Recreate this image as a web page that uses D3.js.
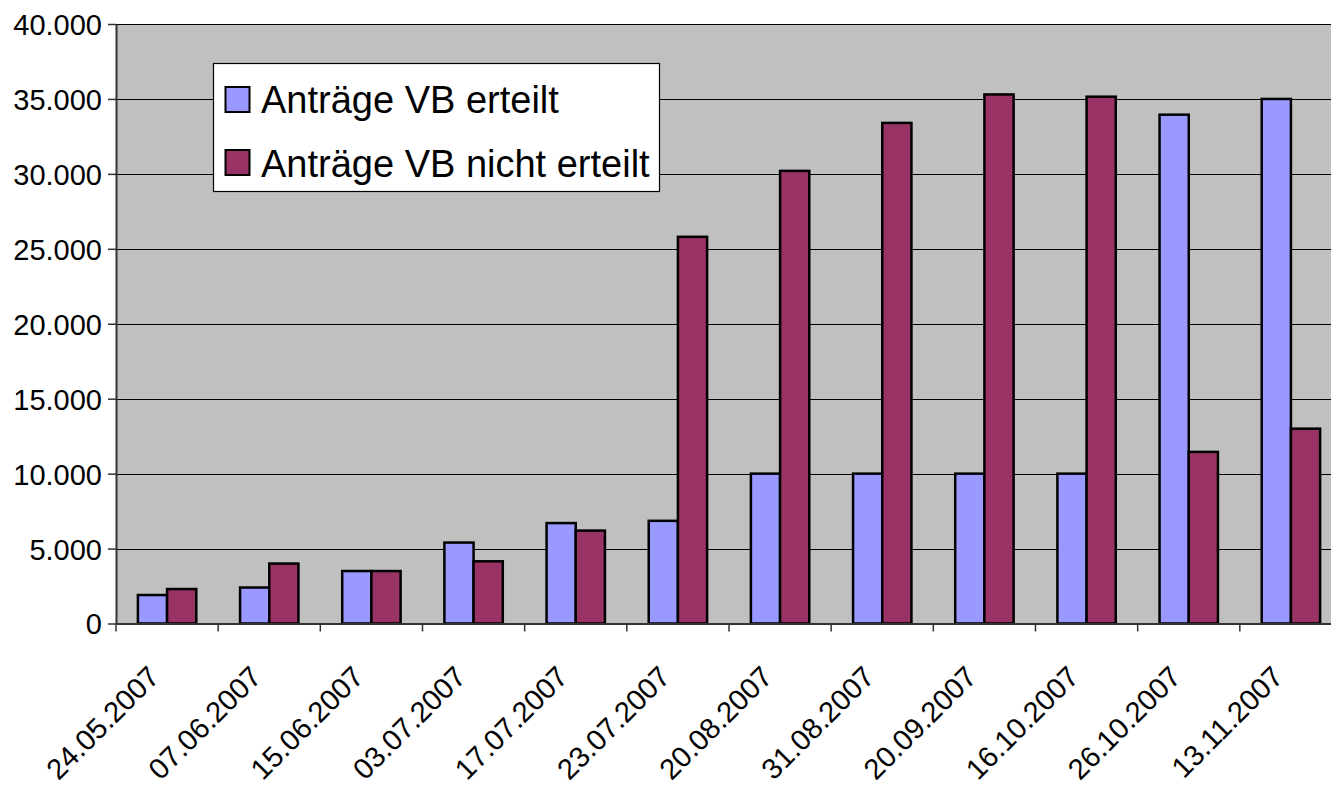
<!DOCTYPE html>
<html><head><meta charset="utf-8">
<script src="https://cdn.jsdelivr.net/npm/d3@7"></script>
<style>
html,body{margin:0;padding:0;background:#fff;}
svg{display:block;font-family:"Liberation Sans",Arial,sans-serif;}
</style></head>
<body>
<svg id="chart" width="1331" height="790"></svg>
<script>
const categories = ["24.05.2007","07.06.2007","15.06.2007","03.07.2007","17.07.2007","23.07.2007","20.08.2007","31.08.2007","20.09.2007","16.10.2007","26.10.2007","13.11.2007"];
const erteilt = [1900, 2400, 3500, 5400, 6700, 6850, 10000, 10000, 10000, 10000, 33950, 35000];
const nichtErteilt = [2300, 4000, 3500, 4150, 6200, 25800, 30200, 33400, 35300, 35150, 11450, 13000];
const seriesNames = ["Anträge VB erteilt", "Anträge VB nicht erteilt"];
const seriesColors = ["#9999FF", "#993366"];
const yTicks = [0,5000,10000,15000,20000,25000,30000,35000,40000];

(function(){
const svg = d3.select("#chart");
const pLeft = 116, pRight = 1342, pTop = 24, pBottom = 623.5;

const x = d3.scaleBand().domain(categories).range([pLeft, pRight]).paddingInner(0).paddingOuter(0);
const sub = d3.scaleBand().domain([0,1]).range([0, x.bandwidth()]).paddingInner(0).paddingOuter(0.75);
const y = d3.scaleLinear().domain([0, 40000]).range([pBottom, pTop]);

const fmt = v => d3.format(",")(v).replace(/,/g, ".");

svg.append("rect").attr("x", pLeft).attr("y", pTop).attr("width", pRight-pLeft).attr("height", pBottom-pTop).attr("fill", "#C0C0C0");

svg.append("g").selectAll("line").data(yTicks.filter(d => d > 0)).join("line")
  .attr("x1", pLeft).attr("x2", pRight)
  .attr("y1", d => Math.round(y(d)) + 0.5).attr("y2", d => Math.round(y(d)) + 0.5)
  .attr("stroke", "#000").attr("stroke-width", 1.2);

const data = categories.map((c, i) => ({c, vals: [erteilt[i], nichtErteilt[i]]}));
const groups = svg.append("g").selectAll("g").data(data).join("g")
  .attr("transform", d => `translate(${x(d.c)},0)`);
groups.selectAll("rect").data(d => d.vals.map((v, k) => ({v, k}))).join("rect")
  .attr("x", d => sub(d.k)).attr("width", sub.bandwidth())
  .attr("y", d => y(d.v)).attr("height", d => y(0) - y(d.v))
  .attr("fill", d => seriesColors[d.k]).attr("stroke", "#000").attr("stroke-width", 2.5);

const yAxis = d3.axisLeft(y).tickValues(yTicks).tickFormat(fmt).tickSizeInner(8).tickSizeOuter(0).tickPadding(6);
const ya = svg.append("g").attr("transform", `translate(${pLeft},0)`).call(yAxis);
ya.select(".domain").attr("stroke", "#333").attr("stroke-width", 2);
ya.selectAll(".tick line").attr("stroke", "#333").attr("stroke-width", 1.5);
ya.selectAll(".tick text").attr("font-size", 29).attr("fill", "#000").attr("font-family", "Liberation Sans, Arial, sans-serif").attr("dy", "0.36em");

const xAxis = d3.axisBottom(x).tickSize(0).tickFormat("");
const xa = svg.append("g").attr("transform", `translate(0,${pBottom})`).call(xAxis);
xa.select(".domain").attr("stroke", "#333").attr("stroke-width", 2);
const bounds = categories.map(c => x(c)).concat([pRight]);
xa.append("g").selectAll("line").data(bounds).join("line")
  .attr("x1", d => d).attr("x2", d => d).attr("y1", 0).attr("y2", 8)
  .attr("stroke", "#333").attr("stroke-width", 1.5);
xa.append("g").selectAll("text").data(categories).join("text")
  .attr("transform", d => `translate(${x(d) + x.bandwidth()/2 - 6},${55}) rotate(-45)`)
  .attr("text-anchor", "end").attr("font-size", 29).attr("fill", "#000")
  .text(d => d);

const lg = svg.append("g").attr("transform", "translate(213,63)");
lg.append("rect").attr("x", 0.5).attr("y", 0.5).attr("width", 446).attr("height", 128)
  .attr("fill", "#fff").attr("stroke", "#000").attr("stroke-width", 1.2);
seriesNames.forEach((name, i) => {
  lg.append("rect").attr("x", 12.5).attr("y", 24 + i*63).attr("width", 24).attr("height", 25)
    .attr("fill", seriesColors[i]).attr("stroke", "#000").attr("stroke-width", 2);
  lg.append("text").attr("x", 48).attr("y", 50 + i*64).attr("font-size", 38).attr("fill", "#000").text(name);
});
})();
</script>
</body></html>
